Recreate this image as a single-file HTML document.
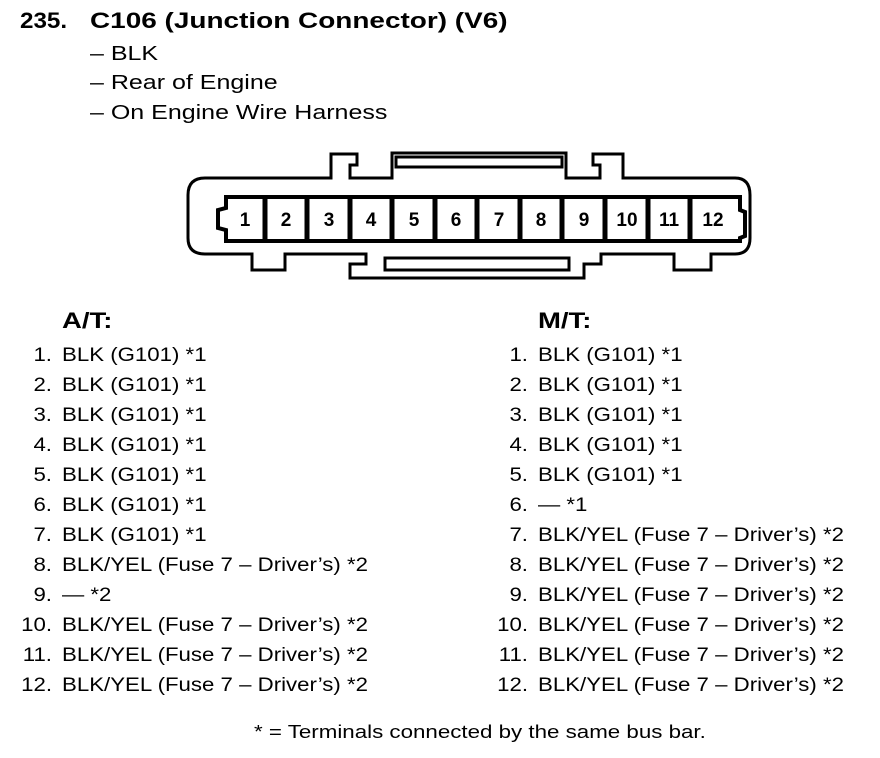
<!DOCTYPE html>
<html><head><meta charset="utf-8"><style>
body{margin:0;background:#fff;width:880px;height:758px;position:relative;font-family:"Liberation Sans",Arial,sans-serif;color:#000;overflow:hidden}
.t{position:absolute;white-space:nowrap;transform-origin:0 0}
.n{position:absolute;text-align:right;width:40px;font-size:19px;transform:scaleX(1.17);transform-origin:100% 0}
.v{position:absolute;font-size:19px;white-space:nowrap;transform:scaleX(1.17);transform-origin:0 0}
</style></head><body>
<div class="t" style="left:20px;top:8px;font-size:22px;font-weight:bold;transform:scaleX(1.1)">235.</div>
<div class="t" style="left:90px;top:8px;font-size:22px;font-weight:bold;transform:scaleX(1.27)">C106 (Junction Connector) (V6)</div>
<div class="t" style="left:90px;top:43px;font-size:20px;transform:scaleX(1.25)">– BLK</div>
<div class="t" style="left:90px;top:72px;font-size:20px;transform:scaleX(1.25)">– Rear of Engine</div>
<div class="t" style="left:90px;top:102px;font-size:20px;transform:scaleX(1.25)">– On Engine Wire Harness</div>
<svg width="880" height="300" style="position:absolute;left:0;top:0" fill="none" stroke="#000" stroke-width="3">
<path d="M205,178 L331,178 L331,154 L357,154 L357,165 L350,165 L350,178 L392,178 L392,153 L566,153 L566,178 L600,178 L600,165 L593,165 L593,154 L623,154 L623,178 L735,178 Q750,178 750,195 L750,238 Q750,254 735,254 L711,254 L711,270 L674,270 L674,254 L601,254 L601,264 L584,264 L584,278 L350,278 L350,264 L366,264 L366,254 L285,254 L285,270 L252,270 L252,254 L205,254 Q188,254 188,238 L188,195 Q188,178 205,178 Z"/>
<rect x="396" y="157" width="166" height="10"/>
<rect x="385" y="258" width="184" height="12"/>
<path d="M226,197 L740,197 L740,210 L745,212 L745,236 L740,238 L740,241 L226,241 L226,230 L218,228 L218,210 L226,208 Z" stroke-width="4"/>
<g stroke-width="5">
<line x1="265" y1="197" x2="265" y2="241"/><line x1="307" y1="197" x2="307" y2="241"/><line x1="350" y1="197" x2="350" y2="241"/><line x1="392" y1="197" x2="392" y2="241"/><line x1="435" y1="197" x2="435" y2="241"/><line x1="477" y1="197" x2="477" y2="241"/><line x1="520" y1="197" x2="520" y2="241"/><line x1="562" y1="197" x2="562" y2="241"/><line x1="605" y1="197" x2="605" y2="241"/><line x1="648" y1="197" x2="648" y2="241"/><line x1="690" y1="197" x2="690" y2="241"/>
</g>
<g fill="#000" stroke="none" font-family="Liberation Sans, Arial, sans-serif" font-weight="bold" font-size="19" text-anchor="middle">
<text x="245" y="226">1</text><text x="286" y="226">2</text><text x="329" y="226">3</text><text x="371" y="226">4</text><text x="414" y="226">5</text><text x="456" y="226">6</text><text x="499" y="226">7</text><text x="541" y="226">8</text><text x="584" y="226">9</text><text x="627" y="226">10</text><text x="669" y="226">11</text><text x="713" y="226">12</text>
</g>
</svg>
<div class="t" style="left:62px;top:308px;font-size:22px;font-weight:bold;transform:scaleX(1.25)">A/T:</div>
<div class="t" style="left:538px;top:308px;font-size:22px;font-weight:bold;transform:scaleX(1.25)">M/T:</div>
<div id="L"></div>
<div class="t" style="left:254px;top:722px;font-size:18px;transform:scaleX(1.24)">* = Terminals connected by the same bus bar.</div>
<script>
var a=["BLK (G101) *1","BLK (G101) *1","BLK (G101) *1","BLK (G101) *1","BLK (G101) *1","BLK (G101) *1","BLK (G101) *1","BLK/YEL (Fuse 7 – Driver’s) *2","— *2","BLK/YEL (Fuse 7 – Driver’s) *2","BLK/YEL (Fuse 7 – Driver’s) *2","BLK/YEL (Fuse 7 – Driver’s) *2"];
var m=["BLK (G101) *1","BLK (G101) *1","BLK (G101) *1","BLK (G101) *1","BLK (G101) *1","— *1","BLK/YEL (Fuse 7 – Driver’s) *2","BLK/YEL (Fuse 7 – Driver’s) *2","BLK/YEL (Fuse 7 – Driver’s) *2","BLK/YEL (Fuse 7 – Driver’s) *2","BLK/YEL (Fuse 7 – Driver’s) *2","BLK/YEL (Fuse 7 – Driver’s) *2"];
var h="";
for(var i=0;i<12;i++){var y=345+i*30;
h+='<div class="n" style="left:12px;top:'+y+'px">'+(i+1)+'.</div><div class="v" style="left:62px;top:'+y+'px">'+a[i]+'</div>';
h+='<div class="n" style="left:488px;top:'+y+'px">'+(i+1)+'.</div><div class="v" style="left:538px;top:'+y+'px">'+m[i]+'</div>';}
document.getElementById("L").innerHTML=h;
</script>
</body></html>
